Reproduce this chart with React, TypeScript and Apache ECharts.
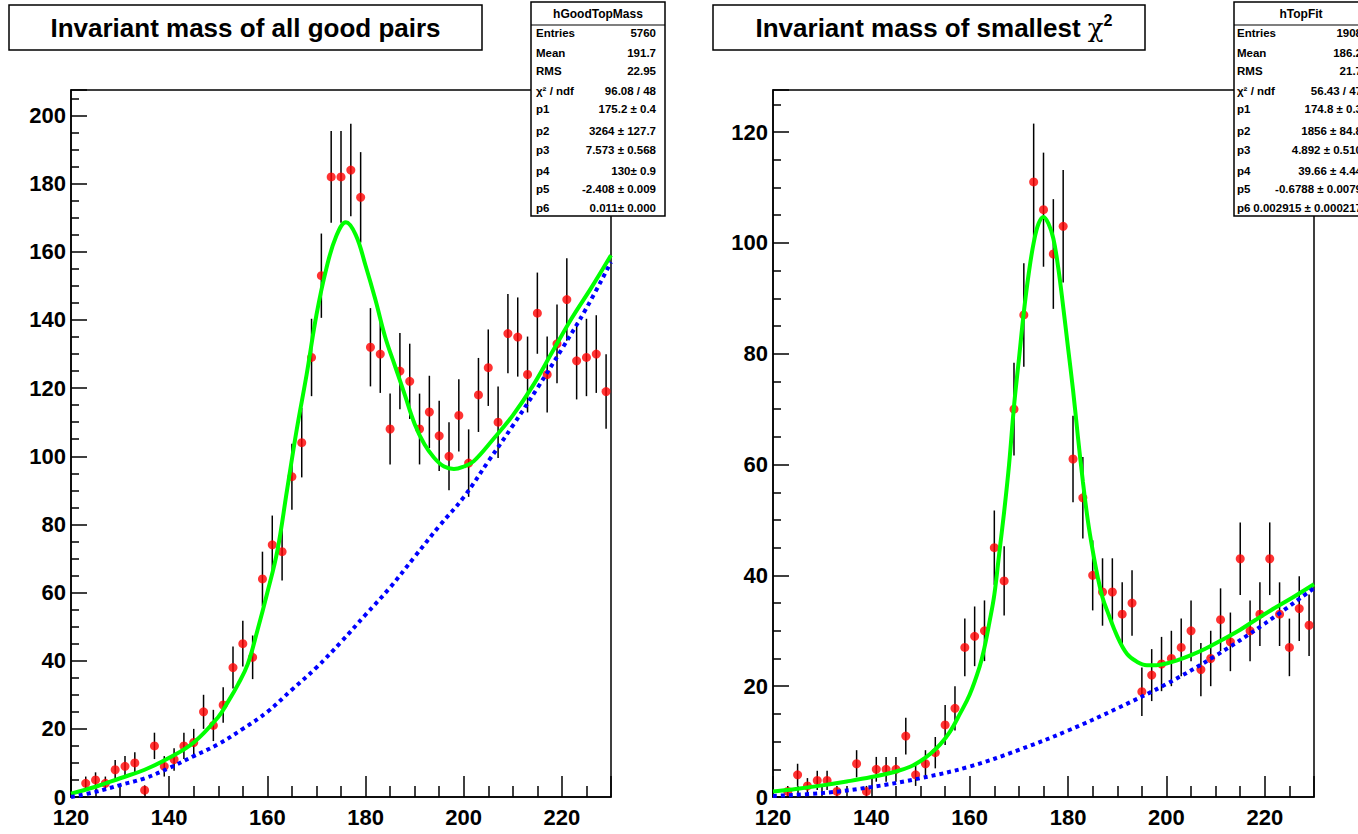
import React, { useEffect, useRef } from 'react';
import * as echarts from 'echarts';

// ---------- data ----------
const leftBins = [123, 125, 127, 129, 131, 133, 135, 137, 139, 141, 143, 145, 147, 149, 151, 153, 155, 157, 159, 161, 163, 165, 167, 169, 171, 173, 175, 177, 179, 181, 183, 185, 187, 189, 191, 193, 195, 197, 199, 201, 203, 205, 207, 209, 211, 213, 215, 217, 219, 221, 223, 225, 227, 229];
const leftCounts = [4, 5, 4, 8, 9, 10, 2, 15, 9, 11, 15, 16, 25, 21, 27, 38, 45, 41, 64, 74, 72, 94, 104, 129, 153, 182, 182, 184, 176, 132, 130, 108, 125, 122, 108, 113, 106, 100, 112, 98, 118, 126, 110, 136, 135, 124, 142, 124, 133, 146, 128, 129, 130, 119];

const rightBins = [123, 125, 127, 129, 131, 133, 135, 137, 139, 141, 143, 145, 147, 149, 151, 153, 155, 157, 159, 161, 163, 165, 167, 169, 171, 173, 175, 177, 179, 181, 183, 185, 187, 189, 191, 193, 195, 197, 199, 201, 203, 205, 207, 209, 211, 213, 215, 217, 219, 221, 223, 225, 227, 229];
const rightCounts = [1, 4, 2, 3, 3, 1, 0, 6, 1, 5, 5, 5, 11, 4, 6, 8, 13, 16, 27, 29, 30, 45, 39, 70, 87, 111, 106, 98, 103, 61, 54, 40, 37, 37, 33, 35, 19, 22, 24, 25, 27, 30, 23, 25, 32, 28, 43, 30, 33, 43, 33, 27, 34, 31];

// fit curves
const leftFitX = [120, 125, 130, 135, 140, 145, 150, 152, 154, 156, 158, 160, 162, 164, 166, 168, 170, 172, 174, 176, 178, 180, 182, 184, 186, 188, 190, 192, 194, 196, 198, 200, 202, 206, 210, 214, 218, 222, 226, 230];
const leftFitY = [1, 3, 5.5, 8, 11.5, 16, 23.5, 28, 33, 39, 49, 60, 72, 90, 108, 124, 141.5, 155, 164.5, 168.7, 165, 156, 146, 135, 126.5, 118, 109.5, 103.5, 99.5, 97, 96.3, 97, 98.5, 105, 112, 120.5, 130.5, 140.5, 149.5, 159];
const leftBkgX = [120, 125, 130, 135, 140, 145, 150, 155, 160, 165, 170, 175, 180, 185, 190, 195, 200, 205, 210, 215, 220, 225, 230];
const leftBkgY = [0, 1.5, 3.5, 5.5, 8.5, 12, 15.5, 20, 25, 31.5, 38, 45.5, 53.5, 61.5, 70.5, 79.5, 88, 98.5, 109, 120, 131.5, 143.5, 157];

const rightFitX = [120, 125, 130, 135, 140, 145, 148, 150, 152, 154, 156, 158, 160, 162, 163, 164, 165, 166, 167, 168, 169, 170, 171, 172, 173, 174, 175, 176, 177, 178, 179, 180, 181, 182, 183, 184, 185, 186, 187, 188, 190, 192, 194, 196, 198, 200, 202, 205, 208, 211, 215, 218, 222, 226, 230];
const rightFitY = [1.0, 1.5, 2.1, 2.8, 3.6, 4.6, 5.5, 6.5, 7.8, 9.5, 11.8, 15, 18.5, 23.5, 27, 31.5, 36.5, 44, 51.5, 60, 70.5, 79, 87.5, 94.5, 100, 103.5, 104.7, 103.5, 100.8, 95.5, 88.5, 81, 73.5, 65, 57, 50, 44.5, 39.8, 36, 33.5, 29, 25.8, 24.4, 23.8, 23.8, 24.1, 24.6, 25.6, 26.8, 28.2, 30.2, 31.9, 34.1, 36.2, 38.4];
const rightBkgX = [120, 130, 140, 150, 160, 170, 180, 190, 200, 210, 220, 230];
const rightBkgY = [0.2, 0.7, 1.8, 3.4, 5.5, 8.5, 12, 16, 20.4, 25.5, 31.3, 37.7];

const statsLabels = ['Entries', 'Mean', 'RMS', 'χ² / ndf', 'p1', 'p2', 'p3', 'p4', 'p5', 'p6'];
const leftStatsValues = ['5760', '191.7', '22.95', '96.08 / 48', '175.2 ± 0.4', '3264 ± 127.7', '7.573 ± 0.568', '130± 0.9', '-2.408 ± 0.009', '0.011± 0.000'];
const rightStatsValues = ['1908', '186.2', '21.7', '56.43 / 47', '174.8 ± 0.3', '1856 ± 84.8', '4.892 ± 0.510', '39.66 ± 4.44', '-0.6788 ± 0.0079', '0.002915 ± 0.000217'];

const leftTitle = 'Invariant mass of all good pairs';
const rightTitle = 'Invariant mass of smallest ';
const leftHistName = 'hGoodTopMass';
const rightHistName = 'hTopFit';

// ---------- layout ----------
const FONT = '"Liberation Sans", Arial, Helvetica, sans-serif';
const rowY = [33, 53, 71, 91, 109, 131, 150, 171, 189, 208];

function pairs(xs: number[], ys: number[]) {
  return xs.map((x, i) => [x, ys[i]]);
}

function points(bins: number[], counts: number[]) {
  return bins.map((x, i) => [x, counts[i]]).filter((p) => p[1] > 0);
}

function errBars(bins: number[], counts: number[]) {
  return bins
    .map((x, i) => {
      const e = Math.sqrt(counts[i]);
      return [x, counts[i] - e, counts[i] + e, counts[i]];
    })
    .filter((p) => p[3] > 0);
}

function axisStyle(tickLen: number, minorLen: number) {
  return {
    axisLine: { show: true, onZero: false, lineStyle: { color: '#000', width: 1.5 } },
    axisTick: { show: true, inside: true, length: tickLen, lineStyle: { color: '#000', width: 1.5 } },
    minorTick: { show: true, splitNumber: 4, length: minorLen, lineStyle: { color: '#000', width: 1.5 } },
    splitLine: { show: false },
    minorSplitLine: { show: false },
  };
}

function statsBox(x0: number, x1: number, labelX: number, valueX: number, name: string, values: string[]) {
  const els: any[] = [
    {
      type: 'rect',
      z: 100,
      shape: { x: x0, y: 2, width: x1 - x0, height: 214 },
      style: { fill: '#fff', stroke: '#000', lineWidth: 1.5 },
    },
    {
      type: 'line',
      z: 101,
      shape: { x1: x0, y1: 25, x2: x1, y2: 25 },
      style: { stroke: '#000', lineWidth: 1.2 },
    },
    {
      type: 'text',
      z: 101,
      x: (x0 + x1) / 2,
      y: 14,
      style: { text: name, fill: '#000', font: `bold 12px ${FONT}`, align: 'center', verticalAlign: 'middle' },
    },
  ];
  statsLabels.forEach((lab, i) => {
    els.push({
      type: 'text',
      z: 101,
      x: labelX,
      y: rowY[i],
      style: { text: lab, fill: '#000', font: `bold 11.5px ${FONT}`, align: 'left', verticalAlign: 'middle' },
    });
    els.push({
      type: 'text',
      z: 101,
      x: valueX,
      y: rowY[i],
      style: { text: values[i], fill: '#000', font: `bold 11.5px ${FONT}`, align: 'right', verticalAlign: 'middle' },
    });
  });
  return els;
}

function seriesFor(idx: number, bins: number[], counts: number[], fx: number[], fy: number[], bx: number[], by: number[]) {
  return [
    {
      type: 'custom',
      xAxisIndex: idx,
      yAxisIndex: idx,
      z: 2,
      data: errBars(bins, counts),
      encode: { x: 0, y: [1, 2] },
      renderItem: (params: any, api: any) => {
        const x = api.value(0);
        const p1 = api.coord([x, api.value(1)]);
        const p2 = api.coord([x, api.value(2)]);
        return {
          type: 'line',
          shape: { x1: p1[0], y1: p1[1], x2: p2[0], y2: p2[1] },
          style: { stroke: '#000', lineWidth: 1.5 },
        };
      },
      silent: true,
    },
    {
      type: 'scatter',
      xAxisIndex: idx,
      yAxisIndex: idx,
      z: 3,
      data: points(bins, counts),
      symbol: 'circle',
      symbolSize: 9,
      itemStyle: { color: '#ff0000' },
      silent: true,
    },
    {
      type: 'line',
      xAxisIndex: idx,
      yAxisIndex: idx,
      z: 4,
      data: pairs(fx, fy),
      smooth: 0.4,
      showSymbol: false,
      symbol: 'none',
      lineStyle: { color: '#00ff00', width: 4 },
      silent: true,
    },
    {
      type: 'line',
      xAxisIndex: idx,
      yAxisIndex: idx,
      z: 5,
      data: pairs(bx, by),
      smooth: 0.4,
      showSymbol: false,
      symbol: 'none',
      lineStyle: { color: '#0000ff', width: 4, type: [4, 4], cap: 'butt' },
      silent: true,
    },
  ];
}

export default function App() {
  const ref = useRef<HTMLDivElement>(null);
  useEffect(() => {
    if (!ref.current) return;
    const chart = echarts.init(ref.current, null, { renderer: 'svg' });
    const label = {
      color: '#000',
      fontSize: 22,
      fontWeight: 'bold',
      fontFamily: FONT,
      showMaxLabel: false,
    };
    const option: any = {
      animation: false,
      backgroundColor: '#ffffff',
      grid: [
        { left: 71, top: 90, width: 540, height: 707, show: true, borderColor: '#000', borderWidth: 1.5, backgroundColor: 'transparent', outerBoundsMode: 'none', containLabel: false },
        { left: 773, top: 90, width: 541, height: 707, show: true, borderColor: '#000', borderWidth: 1.5, backgroundColor: 'transparent', outerBoundsMode: 'none', containLabel: false },
      ],
      xAxis: [
        { type: 'value', gridIndex: 0, min: 120, max: 230, interval: 20, ...axisStyle(21, 11), axisLabel: { ...label, margin: 9 } },
        { type: 'value', gridIndex: 1, min: 120, max: 230, interval: 20, ...axisStyle(21, 11), axisLabel: { ...label, margin: 9 } },
      ],
      yAxis: [
        { type: 'value', gridIndex: 0, min: 0, max: 207.5, interval: 20, ...axisStyle(16, 8), axisLabel: { ...label, margin: 5 } },
        { type: 'value', gridIndex: 1, min: 0, max: 127.6, interval: 20, ...axisStyle(16, 8), axisLabel: { ...label, margin: 5 } },
      ],
      series: [
        ...seriesFor(0, leftBins, leftCounts, leftFitX, leftFitY, leftBkgX, leftBkgY),
        ...seriesFor(1, rightBins, rightCounts, rightFitX, rightFitY, rightBkgX, rightBkgY),
      ],
      graphic: [
        {
          type: 'rect',
          z: 100,
          shape: { x: 9, y: 5, width: 473, height: 45 },
          style: { fill: '#fff', stroke: '#000', lineWidth: 1.5 },
        },
        {
          type: 'text',
          z: 101,
          x: 245.5,
          y: 28,
          style: { text: leftTitle, fill: '#000', font: `bold 26px ${FONT}`, align: 'center', verticalAlign: 'middle' },
        },
        {
          type: 'rect',
          z: 100,
          shape: { x: 713, y: 5, width: 432, height: 45 },
          style: { fill: '#fff', stroke: '#000', lineWidth: 1.5 },
        },
        {
          type: 'text',
          z: 101,
          x: 934,
          y: 28,
          style: {
            text: `{a|${rightTitle}}{b|χ}{c|2}`,
            fill: '#000',
            align: 'center',
            verticalAlign: 'middle',
            rich: {
              a: { fontSize: 26, fontWeight: 'bold', fontFamily: FONT, fill: '#000', lineHeight: 32 },
              b: { fontSize: 26, fontWeight: 'normal', fontFamily: '"DejaVu Serif", serif', fill: '#000', lineHeight: 32 },
              c: { fontSize: 16, fontWeight: 'bold', fontFamily: FONT, fill: '#000', verticalAlign: 'top', lineHeight: 18 },
            },
          },
        },
        ...statsBox(531, 665, 536, 656, leftHistName, leftStatsValues),
        ...statsBox(1234, 1368, 1237, 1362, rightHistName, rightStatsValues),
      ],
    };
    chart.setOption(option);
    return () => chart.dispose();
  }, []);
  return <div ref={ref} style={{ position: 'fixed', left: 0, top: 0, width: 1358, height: 834, background: '#fff' }} />;
}
